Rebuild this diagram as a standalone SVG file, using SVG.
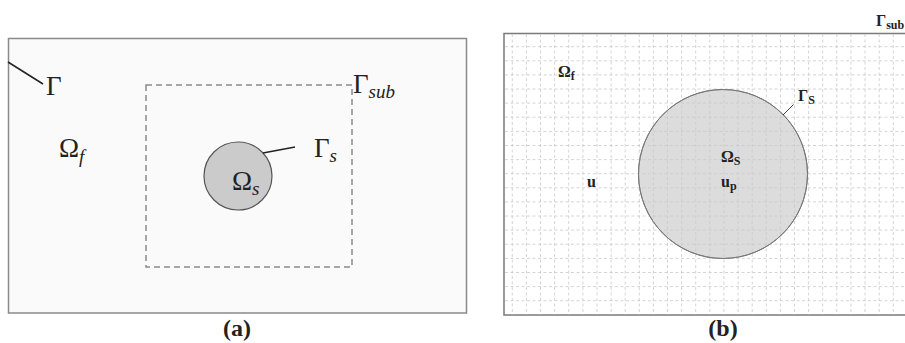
<svg xmlns="http://www.w3.org/2000/svg" width="905" height="343" viewBox="0 0 905 343">
<style>
.frame{fill:#fafafa;stroke:#8a8a8a;stroke-width:1.5}
.frameb{fill:#ffffff;stroke:#7a7a7a;stroke-width:1.5}
.dash{fill:none;stroke:#8a8a8a;stroke-width:1.5;stroke-dasharray:6 4}
.grid{fill:none;stroke:#c9c9c9;stroke-width:0.8;stroke-dasharray:3 2.5}
.lead{fill:none;stroke:#222;stroke-width:1.5}
.leadb{fill:none;stroke:#444;stroke-width:1}
text{font-family:'Liberation Serif','Times New Roman',serif;fill:#222}
.m{font-size:27px}
.mi{font-style:italic;font-size:19px}
.b{font-weight:bold;font-size:16px}
.bs{font-size:12px}
.cap{font-weight:bold;font-size:24px;text-anchor:middle}
</style>
<g id="panel-a">
<rect class="frame" x="8.5" y="38.5" width="458" height="274.5"/>
<rect id="gamma-sub-box" class="dash" x="146" y="85" width="206" height="182"/>
<g id="solid-a">
<circle cx="238" cy="176" r="34" fill="#cbcbcb" stroke="#555" stroke-width="1.2"/>
<text class="m" x="232" y="190">Ω<tspan class="mi" dy="5">s</tspan></text>
</g>
<text id="label-gamma" class="m" x="46" y="95">Γ</text>
<text id="label-omega-f" class="m" x="59" y="157">Ω<tspan class="mi" dy="6">f</tspan></text>
<text id="label-gamma-s" class="m" x="314" y="157">Γ<tspan class="mi" dy="5">s</tspan></text>
<text id="label-gamma-sub" class="m" x="353" y="93">Γ<tspan class="mi" dy="5">sub</tspan></text>
<text class="cap" x="237" y="336">(a)</text>
</g>
<g id="panel-b">
<rect class="frameb" x="504" y="33.5" width="410" height="281.5"/>
<g id="solid-b">
<circle cx="723" cy="174" r="84.5" fill="#dcdcdc" stroke="#777" stroke-width="1"/>
</g>
<path class="grid" d="M512.3 34V315M526.4 34V315M540.5 34V315M554.6 34V315M568.7 34V315M582.9 34V315M597 34V315M611.1 34V315M625.2 34V315M639.3 34V315M653.4 34V315M667.5 34V315M681.6 34V315M695.7 34V315M709.8 34V315M723.9 34V315M738.1 34V315M752.2 34V315M766.3 34V315M780.4 34V315M794.5 34V315M808.6 34V315M822.7 34V315M836.8 34V315M850.9 34V315M865 34V315M879.2 34V315M893.3 34V315M505 46.7H905M505 60.8H905M505 74.9H905M505 89H905M505 103.1H905M505 117.2H905M505 131.4H905M505 145.5H905M505 159.6H905M505 173.7H905M505 187.8H905M505 201.9H905M505 216H905M505 230.1H905M505 244.2H905M505 258.4H905M505 272.5H905M505 286.6H905M505 300.7H905"/>
<circle cx="723" cy="174" r="84.5" fill="none" stroke="#777" stroke-width="1"/>
<text id="label-omega-f-b" class="b" x="558" y="77">Ω<tspan class="bs" dy="3">f</tspan></text>
<text id="label-gamma-s-b" class="b" x="798" y="101">Γ<tspan class="bs" dy="3">S</tspan></text>
<text id="label-omega-s-b" class="b" x="721" y="162">Ω<tspan class="bs" dy="3">S</tspan></text>
<text id="label-u" class="b" x="587" y="187">u</text>
<text id="label-up" class="b" x="721" y="187">u<tspan class="bs" dy="3">p</tspan></text>
<text id="label-gamma-sub-b" class="b" x="876" y="26">Γ<tspan class="bs" dy="3">sub</tspan></text>
<text class="cap" x="723" y="336">(b)</text>
</g>
<g id="connectors">
<line class="lead" x1="8" y1="62" x2="43" y2="84"/>
<line class="lead" x1="263" y1="153" x2="295" y2="147"/>
<line class="leadb" x1="783" y1="115" x2="793.5" y2="104.5"/>
</g>
</svg>
